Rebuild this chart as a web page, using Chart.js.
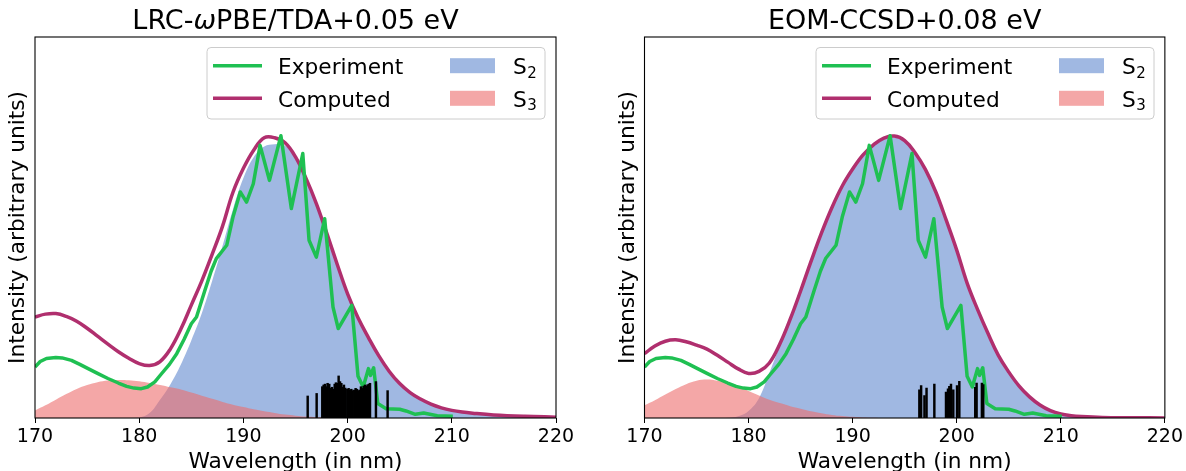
<!DOCTYPE html>
<html>
<head>
<meta charset="utf-8">
<script src="https://cdn.jsdelivr.net/npm/chart.js@4.4.1/dist/chart.umd.min.js"></script>
<style>
  html, body { margin: 0; padding: 0; background: #fff; }
  #wrap { position: relative; width: 1186px; height: 471px; }
  canvas { position: absolute; top: 0; }
</style>
</head>
<body>
<div id="wrap">
  <canvas id="lrcChart" width="593" height="471" style="left:0"></canvas>
  <canvas id="eomChart" width="593" height="471" style="left:593px"></canvas>
</div>
<script>
// wavelength grid (nm) for the computed spectra and their components
const wl = [170,171,172,173,174,175,176,177,178,179,
            180,181,182,183,184,185,186,187,188,189,
            190,191,192,193,194,195,196,197,198,199,
            200,201,202,203,204,205,206,207,208,209,
            210,211,212,214,217,220];
const xTicks = [170, 180, 190, 200, 210, 220];

// LRC-wPBE/TDA panel
const lrcComputed = [0.358,0.368,0.370,0.360,0.343,0.318,0.290,0.262,0.235,0.212,
                     0.193,0.186,0.200,0.245,0.315,0.400,0.485,0.580,0.680,0.800,
                     0.885,0.950,0.993,0.993,0.975,0.925,0.850,0.760,0.655,0.545,
                     0.440,0.355,0.285,0.220,0.165,0.122,0.090,0.067,0.049,0.036,
                     0.027,0.021,0.017,0.011,0.006,0.003];
const lrcS2 = [0,0,0,0,0,0,0,0,0,0,
               0.002,0.018,0.065,0.120,0.190,0.275,0.370,0.485,0.610,0.740,
               0.850,0.925,0.962,0.970,0.965,0.918,0.843,0.755,0.650,0.541,
               0.436,0.351,0.282,0.217,0.162,0.119,0.087,0.064,0.046,0.034,
               0.025,0.019,0.015,0.010,0.005,0.002];
const lrcS3 = [0.027,0.045,0.065,0.085,0.103,0.117,0.127,0.133,0.135,0.134,
               0.130,0.124,0.117,0.109,0.101,0.090,0.079,0.068,0.057,0.047,
               0.039,0.031,0.024,0.018,0.012,0.008,0.005,0.003,0.002,0.001,
               0,0,0,0,0,0,0,0,0,0,
               0,0,0,0,0,0];
const lrcStickWl = [196.17,197.03,197.57,197.70,197.83,197.96,198.08,198.24,198.37,198.50,
                    198.63,198.76,198.88,199.01,199.14,199.27,199.40,199.52,199.65,199.78,
                    199.97,200.10,200.23,200.36,200.48,200.64,200.77,200.90,201.03,201.16,
                    201.28,201.41,201.54,201.67,201.80,201.92,202.05,202.15,202.72,203.84];
const lrcStickHeight = [0.078,0.087,0.111,0.117,0.120,0.111,0.123,0.120,0.105,0.109,
                        0.102,0.120,0.125,0.123,0.149,0.129,0.123,0.109,0.117,0.106,
                        0.102,0.105,0.099,0.102,0.097,0.099,0.105,0.102,0.097,0.099,
                        0.111,0.105,0.113,0.117,0.113,0.118,0.120,0.123,0.129,0.097];

// EOM-CCSD panel
const eomComputed = [0.228,0.255,0.272,0.277,0.270,0.258,0.244,0.222,0.198,0.174,
                     0.158,0.165,0.195,0.262,0.350,0.450,0.555,0.655,0.745,0.822,
                     0.882,0.932,0.968,0.992,0.999,0.983,0.940,0.880,0.800,0.700,
                     0.595,0.478,0.385,0.300,0.222,0.163,0.113,0.075,0.046,0.026,
                     0.014,0.008,0.005,0.002,0.001,0];
const eomS2 = [0,0,0,0,0,0,0,0,0.001,0.006,
               0.025,0.070,0.160,0.255,0.342,0.442,0.547,0.648,0.738,0.815,
               0.876,0.926,0.963,0.987,0.994,0.978,0.935,0.875,0.795,0.695,
               0.590,0.474,0.381,0.297,0.219,0.160,0.111,0.073,0.045,0.025,
               0.013,0.007,0.004,0.002,0.001,0];
const eomS3 = [0.045,0.063,0.083,0.103,0.120,0.132,0.136,0.132,0.124,0.112,
               0.096,0.080,0.065,0.053,0.042,0.033,0.024,0.017,0.011,0.007,
               0.004,0.002,0.001,0,0,0,0,0,0,0,
               0,0,0,0,0,0,0,0,0,0,
               0,0,0,0,0,0];
const eomStickWl = [196.41,196.58,196.90,197.10,197.85,198.97,199.16,199.29,199.45,199.67,
                    200.03,200.25,201.78,201.91,202.42,202.55];
const eomStickHeight = [0.100,0.115,0.079,0.106,0.120,0.092,0.103,0.112,0.120,0.100,
                        0.115,0.130,0.109,0.124,0.124,0.118];

// experimental spectrum (same in both panels)
const expWl = [170.0,170.5,171.1,172.0,172.6,173.5,174.3,175.1,176.0,177.0,
               178.0,178.8,179.5,180.2,180.8,181.5,182.1,182.9,183.6,184.3,
               185.0,185.5,186.3,186.9,187.4,188.4,189.0,189.7,190.3,190.95,
               191.6,192.5,193.6,194.6,195.7,196.3,197.0,197.8,198.6,199.1,
               200.4,201.0,201.5,202.0,202.2,202.5,202.9,203.7,205.0,205.6,
               206.5,207.3,208.6,210.1];
const expIntensity = [0.181,0.200,0.211,0.214,0.213,0.204,0.190,0.175,0.158,0.140,
                      0.124,0.112,0.106,0.104,0.110,0.128,0.155,0.190,0.228,0.278,
                      0.334,0.358,0.452,0.520,0.565,0.612,0.712,0.801,0.765,0.830,
                      0.966,0.842,1.000,0.742,0.937,0.630,0.570,0.706,0.393,0.317,
                      0.399,0.148,0.110,0.175,0.151,0.178,0.051,0.033,0.031,0.025,
                      0.013,0.018,0.008,0.006];

const FONT = '"DejaVu Sans", sans-serif';
const GREEN = '#1fc052';
const MAGENTA = '#b02f6e';
const BLUE = '#a0b8e2';
const PINK = 'rgba(236,108,108,0.6)';

Chart.defaults.font.family = FONT;
Chart.defaults.color = '#000';

const pts = (xs, ys) => xs.map((x, i) => ({ x: x, y: ys[i] }));

// frame, titles, axis labels and legend drawn matplotlib-style
const panelDecor = {
    id: 'panelDecor',
    afterDraw(chart, args, o) {
        const { ctx, chartArea: a } = chart;
        const cx = (a.left + a.right) / 2;
        ctx.save();
        ctx.strokeStyle = '#000';
        ctx.lineWidth = 1.1;
        ctx.strokeRect(a.left, a.top, a.right - a.left, a.bottom - a.top);

        ctx.fillStyle = '#000';
        ctx.textBaseline = 'alphabetic';
        ctx.textAlign = 'left';
        let total = 0;
        const parts = o.title.map(p => {
            ctx.font = (p.italic ? 'italic ' : '') + '27px ' + FONT;
            const w = ctx.measureText(p.text).width;
            total += w;
            return { text: p.text, italic: p.italic, w: w };
        });
        let x = cx - total / 2;
        parts.forEach(p => {
            ctx.font = (p.italic ? 'italic ' : '') + '27px ' + FONT;
            ctx.fillText(p.text, x, 29);
            x += p.w;
        });

        ctx.font = '21.7px ' + FONT;
        ctx.textAlign = 'center';
        ctx.fillText('Wavelength (in nm)', cx, 468);

        ctx.save();
        ctx.translate(o.yLabelX, (a.top + a.bottom) / 2);
        ctx.rotate(-Math.PI / 2);
        ctx.textBaseline = 'middle';
        ctx.fillText('Intensity (arbitrary units)', 0, 0);
        ctx.restore();

        // legend
        const L = o.legendLeft, T = 47.5, W = 338, H = 71.5;
        ctx.beginPath();
        ctx.roundRect(L, T, W, H, 4);
        ctx.fillStyle = 'rgba(255,255,255,0.8)';
        ctx.fill();
        ctx.strokeStyle = '#cccccc';
        ctx.lineWidth = 1;
        ctx.stroke();

        const rows = [65.7, 98.3];
        [[GREEN, 'Experiment'], [MAGENTA, 'Computed']].forEach(([c, label], i) => {
            ctx.strokeStyle = c;
            ctx.lineWidth = 3.5;
            ctx.beginPath();
            ctx.moveTo(L + 6, rows[i]);
            ctx.lineTo(L + 55, rows[i]);
            ctx.stroke();
            ctx.fillStyle = '#000';
            ctx.font = '21.7px ' + FONT;
            ctx.textAlign = 'left';
            ctx.textBaseline = 'alphabetic';
            ctx.fillText(label, L + 71, rows[i] + 8.3);
        });
        [[BLUE, '2'], [PINK, '3']].forEach(([c, sub], i) => {
            ctx.fillStyle = c;
            ctx.fillRect(L + 243, rows[i] - 7.5, 45, 15);
            ctx.fillStyle = '#000';
            ctx.font = '21.7px ' + FONT;
            ctx.textAlign = 'left';
            ctx.fillText('S', L + 306, rows[i] + 8.5);
            const sw = ctx.measureText('S').width;
            ctx.font = '15px ' + FONT;
            ctx.fillText(sub, L + 306 + sw + 0.5, rows[i] + 12);
        });
        ctx.restore();
    }
};

const makePanel = (canvasId, cfg) => {
    const ctx = document.getElementById(canvasId).getContext('2d');
    return new Chart(ctx, {
        type: 'line',
        data: {
            datasets: [
                {
                    type: 'bar',
                    data: pts(cfg.stickWl, cfg.stickHeight),
                    backgroundColor: '#000',
                    borderWidth: 0,
                    barThickness: 1.8,
                    grouped: false,
                    order: 1
                },
                {
                    data: pts(expWl, expIntensity),
                    borderColor: GREEN,
                    borderWidth: 3.5,
                    pointRadius: 0,
                    tension: 0,
                    borderJoinStyle: 'round',
                    fill: false,
                    order: 2
                },
                {
                    data: pts(wl, cfg.computed),
                    borderColor: MAGENTA,
                    borderWidth: 3.5,
                    pointRadius: 0,
                    tension: 0.4,
                    fill: false,
                    order: 3
                },
                {
                    data: pts(wl, cfg.s3),
                    borderWidth: 0,
                    borderColor: 'transparent',
                    backgroundColor: PINK,
                    pointRadius: 0,
                    tension: 0.4,
                    fill: 'origin',
                    order: 4
                },
                {
                    data: pts(wl, cfg.s2),
                    borderWidth: 0,
                    borderColor: 'transparent',
                    backgroundColor: BLUE,
                    pointRadius: 0,
                    tension: 0.4,
                    fill: 'origin',
                    order: 5
                }
            ]
        },
        options: {
            responsive: false,
            animation: false,
            layout: { padding: cfg.padding },
            scales: {
                x: {
                    type: 'linear',
                    min: 170,
                    max: 220,
                    offset: false,
                    afterBuildTicks: scale => { scale.ticks = xTicks.map(v => ({ value: v })); },
                    ticks: { font: { size: 19 }, padding: 3, color: '#000', autoSkip: false, maxRotation: 0 },
                    grid: { offset: false, drawOnChartArea: false, drawTicks: true, tickLength: 5, color: '#000', lineWidth: 1 },
                    border: { display: false },
                    afterFit: scale => { scale.height = 53; }
                },
                y: {
                    display: false,
                    min: 0,
                    max: 1.35
                }
            },
            plugins: {
                legend: { display: false },
                tooltip: { enabled: false },
                panelDecor: {
                    title: cfg.title,
                    yLabelX: cfg.yLabelX,
                    legendLeft: cfg.legendLeft
                }
            }
        },
        plugins: [panelDecor]
    });
};

makePanel('lrcChart', {
    title: [{ text: 'LRC-' }, { text: 'ω', italic: true }, { text: 'PBE/TDA+0.05 eV' }],
    computed: lrcComputed, s2: lrcS2, s3: lrcS3,
    stickWl: lrcStickWl, stickHeight: lrcStickHeight,
    padding: { left: 35, right: 37, top: 37, bottom: 0 },
    yLabelX: 18.5,
    legendLeft: 207
});

makePanel('eomChart', {
    title: [{ text: 'EOM-CCSD+0.08 eV' }],
    computed: eomComputed, s2: eomS2, s3: eomS3,
    stickWl: eomStickWl, stickHeight: eomStickHeight,
    padding: { left: 51.5, right: 20, top: 37, bottom: 0 },
    yLabelX: 35,
    legendLeft: 223
});
</script>
</body>
</html>
